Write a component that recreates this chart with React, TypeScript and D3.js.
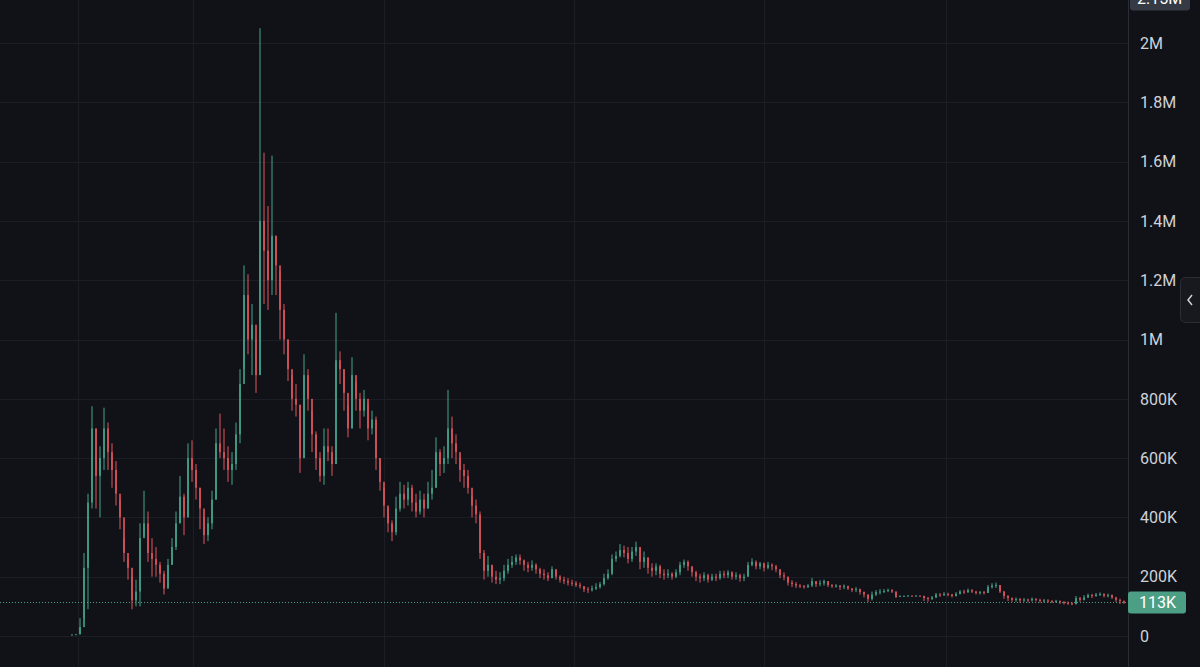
import React from "react";
import * as d3 from "d3";

// Values in thousands (K)
const closes = [
5,6,30,230,450,700,540,600,700,620,560,480,400,280,230,120,150,330,380,280,
260,240,210,160,240,300,380,470,400,600,560,500,430,340,380,460,650,620,600,560,
580,680,850,1150,1000,1050,880,1400,1300,1200,1350,1250,1100,1000,900,800,780,600,880,800,
680,600,540,640,620,580,930,900,820,700,880,800,760,800,700,730,600,520,440,380,
350,430,480,460,500,450,420,460,430,480,500,620,580,600,700,650,620,560,540,500,
440,410,280,220,240,200,190,195,220,240,250,265,255,240,230,240,225,210,205,195,
225,200,190,185,180,178,172,168,158,155,160,165,175,195,210,260,270,290,280,260,
285,300,250,265,230,220,235,210,205,210,200,215,240,250,235,215,200,195,205,190,
200,195,210,205,215,200,205,195,200,240,250,235,245,230,240,235,225,205,200,180,
175,170,168,165,170,185,175,178,185,172,168,170,165,168,160,155,158,148,140,125,
140,148,150,152,155,150,132,135,135,136,135,136,135,128,125,130,140,138,142,140,
135,142,150,148,155,150,145,148,145,165,170,172,150,135,128,122,125,120,123,120,
125,122,118,120,118,116,118,114,112,110,108,128,122,130,138,135,140,142,136,138,
130,122,118,113
];
const highs = [
6,7,60,280,480,775,700,640,770,720,650,590,460,330,260,200,190,380,490,420,
330,300,250,220,260,330,420,540,480,650,660,580,500,400,400,490,700,750,700,640,
620,720,900,1250,1220,1120,1000,2050,1630,1450,1620,1350,1230,1120,1000,880,850,780,950,900,
760,690,620,700,700,640,1090,960,900,780,940,860,820,830,780,760,740,600,500,430,
390,470,520,510,520,510,480,490,480,520,560,670,630,640,830,740,680,600,580,560,
470,460,420,290,270,240,220,215,240,260,270,275,275,258,250,255,245,230,225,215,
235,225,205,200,195,190,185,180,168,165,170,178,182,210,225,275,285,310,305,300,
300,318,300,285,265,245,245,240,225,225,215,225,250,258,255,235,220,210,215,210,
210,210,220,220,222,218,215,210,210,250,262,255,250,248,250,245,240,225,215,200,
188,182,175,172,175,196,185,188,190,185,175,175,172,174,170,162,165,160,150,140,
150,155,158,158,160,158,150,137,137,138,137,138,137,136,132,135,145,145,148,146,
142,148,155,156,160,158,152,152,152,172,178,180,172,152,138,130,130,128,128,126,
130,128,126,125,124,121,122,120,118,116,114,135,132,138,143,142,145,147,144,143,
140,132,126,120
];
const lows = [
4,5,5,60,90,430,430,400,560,560,500,440,360,250,190,90,100,100,340,250,
200,200,180,140,160,240,290,380,340,400,520,460,360,310,320,360,460,600,560,520,
510,560,650,900,950,880,820,880,1120,1100,1150,1150,1000,950,860,760,740,550,600,760,
620,560,520,510,590,540,580,850,760,670,700,760,700,740,660,680,560,490,400,350,
320,340,420,430,440,420,400,410,400,430,460,500,540,550,580,600,580,520,500,480,
400,380,260,190,200,180,175,175,185,210,230,240,240,220,215,220,210,195,190,185,
195,190,180,175,170,168,165,160,148,145,150,155,160,170,190,205,250,265,265,245,
250,270,225,230,210,200,205,195,190,195,190,195,205,230,220,200,185,180,185,180,
185,185,190,195,195,190,190,183,185,200,235,225,225,218,225,222,215,195,188,170,
165,162,162,160,162,165,165,168,170,165,162,163,155,158,155,148,148,140,130,115,
120,135,140,145,148,145,128,132,133,134,133,134,133,118,116,122,128,132,135,134,
130,133,140,142,145,145,140,140,140,145,160,162,145,125,118,115,115,112,115,113,
116,116,112,113,112,111,112,108,106,105,104,106,115,120,128,128,132,135,130,130,
125,115,108,108
];

const yTicks = [0, 200000, 400000, 600000, 800000, 1000000, 1200000, 1400000, 1600000, 1800000, 2000000];
const yTickLabels = ["0", "200K", "400K", "600K", "800K", "1M", "1.2M", "1.4M", "1.6M", "1.8M", "2M"];
const timeGridIdx = [1.5, 30.25, 78, 125.5, 173, 218.5];
const lastPrice = 113000;
const lastPriceLabel = "113K";
const topPrice = 2150000;
const topPriceLabel = "2.15M";

const W = 1200;
const H = 667;
const plotRight = 1128;
const BG = "#111217";
const GRID = "#1c1e25";
const UP = "#45a58e";
const DOWN = "#e0565e";
const TXT = "#cfd2d9";
const FONT = "Roboto, 'Noto Sans', sans-serif";

export default function App() {
  const n = closes.length;
  const x = d3.scaleLinear().domain([0, n - 1]).range([72, 1124]);
  const y = d3.scaleLinear().domain([0, 2000000]).range([636, 43]);
  const candles = closes.map((c, i) => {
    const close = c * 1000;
    const open = (i === 0 ? c : closes[i - 1]) * 1000;
    return { i, open, close, high: highs[i] * 1000, low: lows[i] * 1000 };
  });
  const bodyW = 1.6;
  return (
    <svg
      width={W}
      height={H}
      style={{ position: "fixed", left: 0, top: 0, display: "block", background: BG }}
    >
      <rect x={0} y={0} width={W} height={H} fill={BG} />
      {yTicks.map((t) => (
        <line key={"hg" + t} x1={0} x2={plotRight} y1={Math.round(y(t)) + 0.5} y2={Math.round(y(t)) + 0.5} stroke={GRID} strokeWidth={1} />
      ))}
      {timeGridIdx.map((t) => (
        <line key={"vg" + t} x1={Math.round(x(t)) + 0.5} x2={Math.round(x(t)) + 0.5} y1={0} y2={H} stroke={GRID} strokeWidth={1} />
      ))}
      <line x1={0} x2={plotRight} y1={y(lastPrice)} y2={y(lastPrice)} stroke="#4c9f85" strokeWidth={1} strokeDasharray="1 2" />
      <g>
        {candles.map((d) => {
          const up = d.close >= d.open;
          const col = up ? UP : DOWN;
          const cx = x(d.i);
          const top = y(Math.max(d.open, d.close));
          const bot = y(Math.min(d.open, d.close));
          return (
            <g key={d.i}>
              <line x1={cx} x2={cx} y1={y(d.high)} y2={y(d.low)} stroke={col} strokeWidth={1} />
              <rect x={cx - bodyW / 2} y={top} width={bodyW} height={Math.max(1, bot - top)} fill={col} />
            </g>
          );
        })}
      </g>
      <line x1={plotRight + 0.5} x2={plotRight + 0.5} y1={0} y2={H} stroke="#2a2d35" strokeWidth={1} />
      {yTicks.map((t, k) => (
        <text key={"yl" + t} x={1140} y={y(t)} dy="0.36em" fill={TXT} fontSize={16} fontFamily={FONT}>
          {yTickLabels[k]}
        </text>
      ))}
      <rect x={1130} y={y(topPrice) - 12} width={60} height={24} rx={3} fill="#363a45" />
      <text x={1137} y={y(topPrice)} dy="0.36em" fill="#ffffff" fontSize={16} fontFamily={FONT}>
        {topPriceLabel}
      </text>
      <rect x={1128} y={y(lastPrice) - 11} width={58} height={22} rx={3} fill="#4c9f85" />
      <text x={1139} y={y(lastPrice)} dy="0.36em" fill="#ffffff" fontSize={16} fontFamily={FONT}>
        {lastPriceLabel}
      </text>
      <rect x={1180.5} y={277.5} width={30} height={45} rx={5} fill="#17191e" stroke="#2b2e36" />
      <path d="M1192,295 L1188,300 L1192,305" fill="none" stroke="#d0d2d8" strokeWidth={1.5} />
    </svg>
  );
}
